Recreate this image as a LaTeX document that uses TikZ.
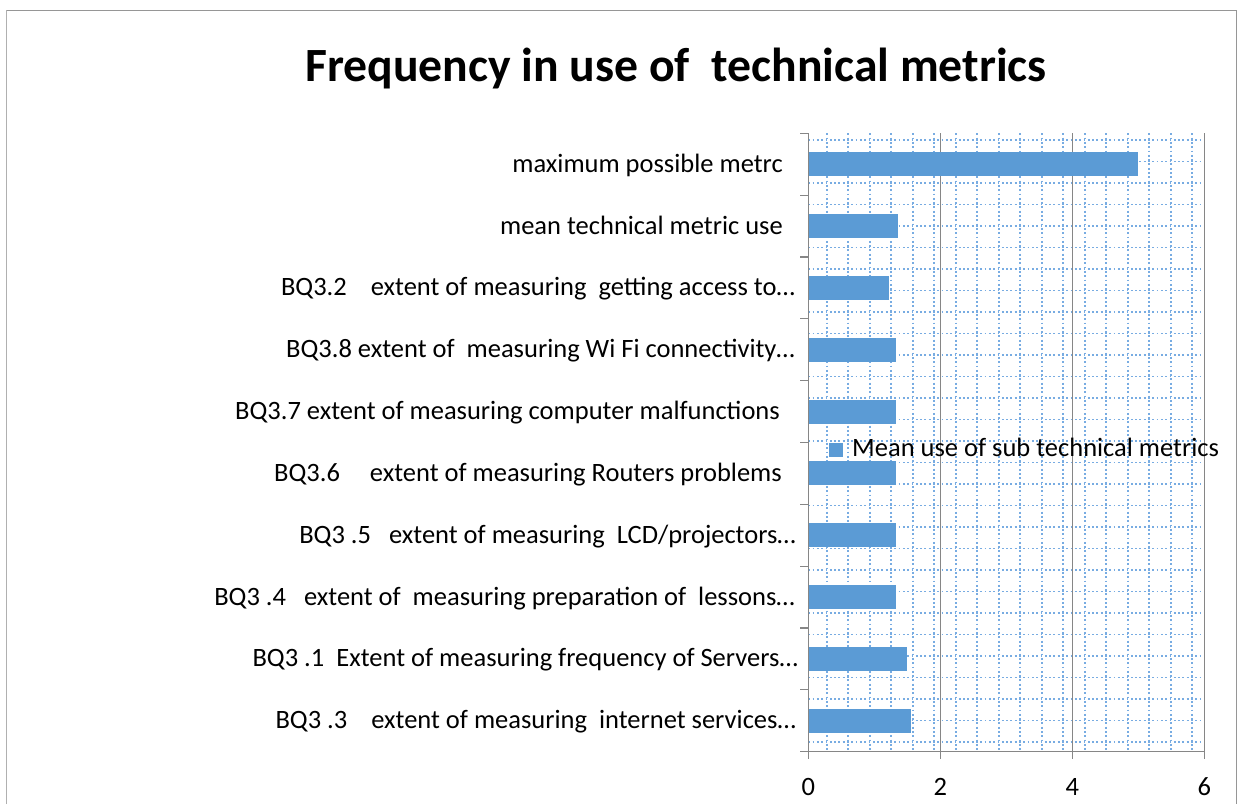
\documentclass[tikz,border=0pt]{standalone}
\usepackage{fontspec}
\setmainfont{Carlito}
\definecolor{barblue}{RGB}{91,155,213}
\definecolor{patblue}{RGB}{120,172,226}
\definecolor{axisgray}{RGB}{134,134,134}
\definecolor{framegray}{RGB}{150,150,150}
\definecolor{frameleft}{RGB}{176,176,176}

\begin{document}
\begin{tikzpicture}[x=1pt,y=-1pt,
  txt/.style={inner sep=0pt,font=\fontsize{26.5}{30}\selectfont},
  catlabel/.style={txt,anchor=base east},
  ticklabel/.style={txt,anchor=base},
  bar/.style={fill=barblue,draw=none},
  patline/.style={draw=patblue,line width=1.8pt,dash pattern=on 1.8pt off 2.5pt},
  axisline/.style={draw=axisgray,line width=1.2pt},
  gridline/.style={draw=axisgray,line width=1.2pt}]
\useasboundingbox (0,0) rectangle (1244,804);

% chart frame
\draw[frameleft,line width=1.4pt] (6.5,804) -- (6.5,10);
\draw[framegray,line width=1pt] (6.5,10) -- (1236,10) -- (1236,804);

% title
\node[inner sep=0pt,anchor=base,font=\bfseries\fontsize{47.7}{52}\selectfont] (title)
  at (676,81.7) {Frequency in use of\ \ technical metrics};

% dotted-grid pattern fill of the plot area
\begin{scope}
  \clip (808.3,133.3) rectangle (1204.3,751.7);
  \foreach \k in {0,...,17}
    \draw[patline] ({826.7+21.5*\k},133.3) -- ++(0,618.4);
  \foreach \k in {0,...,28}
    \draw[patline] (808.3,{140+21.5*\k}) -- ++(396,0);
\end{scope}

% major gridlines and value-axis ticks
\foreach \v in {2,4,6}
  \draw[gridline] ({808.3+66*\v},133.3) -- ({808.3+66*\v},759);
\draw[axisline] (808.3,751.7) -- (808.3,759);

% bars
\foreach \v [count=\i from 0] in {5,1.36,1.22,1.33,1.33,1.33,1.33,1.33,1.49,1.556}
  \fill[bar] (808.3,{133.3+61.84*(\i+0.5)-12}) rectangle ({808.3+66*\v},{133.3+61.84*(\i+0.5)+12});

% axes
\draw[axisline] (808.3,133.3) -- (808.3,751.7);
\draw[axisline] (800,751.7) -- (1204.3,751.7);
\foreach \k in {0,...,9}
  \draw[axisline] (800,{133.3+61.84*\k}) -- (808.3,{133.3+61.84*\k});

% value-axis labels
\foreach \v in {0,2,4,6}
  \node[ticklabel] (tick\v) at ({808.3+66*\v},795) {\v};

% category labels
\node[catlabel] (c0) at (783,172.2) {maximum possible metrc};
\node[catlabel] (c1) at (783,234.0) {mean technical metric use};
\node[catlabel] (c2) at (795,295.9) {BQ3.2\ \ \ \ extent of measuring\ \ getting access to…};
\node[catlabel] (c3) at (795,357.7) {BQ3.8 extent of\ \ measuring Wi Fi connectivity…};
\node[catlabel] (c4) at (780,419.5) {BQ3.7 extent of measuring computer malfunctions};
\node[catlabel] (c5) at (782,481.4) {BQ3.6\ \ \ \ \ extent of measuring Routers problems};
\node[catlabel] (c6) at (796,543.2) {BQ3 .5\ \ \ extent of measuring\ \ LCD/projectors…};
\node[catlabel] (c7) at (795,605.0) {BQ3 .4\ \ \ extent of\ \ measuring preparation of\ \ lessons…};
\node[catlabel] (c8) at (798,666.9) {BQ3 .1\ \ Extent of measuring frequency of Servers…};
\node[catlabel] (c9) at (796,728.7) {BQ3 .3\ \ \ \ extent of measuring\ \ internet services…};

% legend
\fill[bar] (829.3,443.3) rectangle (843.3,457.3);
\node[txt,anchor=base west] (legend) at (852,456.7) {Mean use of sub technical metrics};
\end{tikzpicture}
\end{document}
